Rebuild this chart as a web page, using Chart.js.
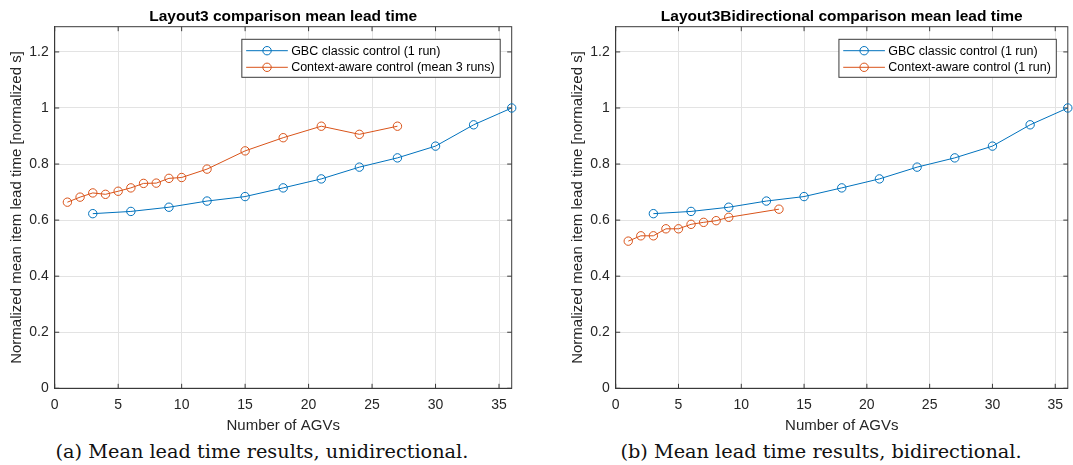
<!DOCTYPE html>
<html>
<head>
<meta charset="utf-8">
<title>Mean lead time comparison</title>
<script src="https://cdn.jsdelivr.net/npm/chart.js@4.4.0/dist/chart.umd.min.js"></script>
<style>
  html, body { margin: 0; padding: 0; background: #fff; }
  body { width: 1073px; height: 465px; position: relative; overflow: hidden; }
  canvas { position: absolute; top: 0; }
  #chart-uni { left: 0; }
  #chart-bi { left: 561px; }
  .caption {
    position: absolute; top: 441px;
    font-family: "DejaVu Serif", serif; font-size: 19.3px; line-height: 22px; color: #111;
    white-space: nowrap; transform: translateX(-50%);
  }
</style>
</head>
<body>
<canvas id="chart-uni" width="536" height="437"></canvas>
<canvas id="chart-bi" width="512" height="437"></canvas>
<div class="caption" style="left:262px">(a) Mean lead time results, unidirectional.</div>
<div class="caption" style="left:821px">(b) Mean lead time results, bidirectional.</div>

<script>
// Number of AGVs and normalized mean item lead time per run
const agvsClassic = [3, 6, 9, 12, 15, 18, 21, 24, 27, 30, 33, 36];
const leadClassic = [0.623, 0.631, 0.646, 0.668, 0.684, 0.715, 0.747, 0.789, 0.822, 0.864, 0.940, 1.000];

const agvsAwareUni = [1, 2, 3, 4, 5, 6, 7, 8, 9, 10, 12, 15, 18, 21, 24, 27];
const leadAwareUni = [0.664, 0.682, 0.697, 0.692, 0.703, 0.715, 0.731, 0.732, 0.749, 0.752, 0.782, 0.847, 0.894, 0.935, 0.906, 0.935];

const agvsAwareBi = [1, 2, 3, 4, 5, 6, 7, 8, 9, 13];
const leadAwareBi = [0.525, 0.544, 0.544, 0.569, 0.569, 0.585, 0.592, 0.598, 0.610, 0.639];

const xTicks = [0, 5, 10, 15, 20, 25, 30, 35];
const xTickLabels = ['0', '5', '10', '15', '20', '25', '30', '35'];
const yTicks = [0, 0.2, 0.4, 0.6, 0.8, 1, 1.2];
const yTickLabels = ['0', '0.2', '0.4', '0.6', '0.8', '1', '1.2'];

const BLUE = '#0072BD';
const ORANGE = '#D95319';
const AXIS = '#3a3a3a';
const GRID = '#e3e3e3';
const TEXT = '#262626';
const FONT = '"Liberation Sans", Arial, sans-serif';

function toPoints(xs, ys) {
    return xs.map((x, i) => ({ x: x, y: ys[i] }));
}

function series(label, xs, ys, color) {
    return {
        label: label,
        data: toPoints(xs, ys),
        showLine: true,
        borderColor: color,
        borderWidth: 1,
        backgroundColor: 'rgba(0,0,0,0)',
        pointBackgroundColor: 'rgba(0,0,0,0)',
        pointBorderColor: color,
        pointBorderWidth: 1,
        pointRadius: 4.2,
        pointHoverRadius: 4.2,
        clip: false,
    };
}

// Bold title centred over the plot area (not over the whole canvas)
function areaTitle(text) {
    return {
        id: 'areaTitle',
        afterDraw(chart) {
            const { ctx, chartArea: a } = chart;
            ctx.save();
            ctx.font = 'bold 15.5px ' + FONT;
            ctx.fillStyle = '#000';
            ctx.textAlign = 'center';
            ctx.textBaseline = 'middle';
            ctx.fillText(text, (a.left + a.right) / 2, 16.5);
            ctx.restore();
        }
    };
}

// Box round the plot area with inward ticks on all four sides
const frameBox = {
    id: 'frameBox',
    beforeDatasetsDraw(chart) {
        const { ctx, chartArea: a, scales: { x, y } } = chart;
        const len = 4.5;
        ctx.save();
        ctx.strokeStyle = AXIS;
        ctx.lineWidth = 1;
        ctx.strokeRect(a.left, a.top, a.right - a.left, a.bottom - a.top);
        ctx.beginPath();
        xTicks.forEach(v => {
            const px = x.getPixelForValue(v);
            ctx.moveTo(px, a.bottom); ctx.lineTo(px, a.bottom - len);
            ctx.moveTo(px, a.top); ctx.lineTo(px, a.top + len);
        });
        yTicks.forEach(v => {
            const py = y.getPixelForValue(v);
            ctx.moveTo(a.left, py); ctx.lineTo(a.left + len, py);
            ctx.moveTo(a.right, py); ctx.lineTo(a.right - len, py);
        });
        ctx.stroke();
        ctx.restore();
    }
};

// Legend box in the upper right corner: line with circle marker, then label
const boxLegend = {
    id: 'boxLegend',
    afterDraw(chart) {
        const { ctx, chartArea: a } = chart;
        const sets = chart.data.datasets;
        ctx.save();
        ctx.font = '12.5px ' + FONT;
        const textW = Math.max(...sets.map(d => ctx.measureText(d.label).width));
        const w = 49.3 + textW + 5.5;
        const h = 38;
        const left = a.right - 11.5 - w;
        const top = a.top + 12.6;
        ctx.fillStyle = '#fff';
        ctx.fillRect(left, top, w, h);
        ctx.strokeStyle = AXIS;
        ctx.lineWidth = 1;
        ctx.strokeRect(left, top, w, h);
        sets.forEach((d, i) => {
            const cy = top + 11.4 + i * 16.6;
            ctx.strokeStyle = d.borderColor;
            ctx.beginPath();
            ctx.moveTo(left + 4.3, cy);
            ctx.lineTo(left + 46, cy);
            ctx.stroke();
            ctx.beginPath();
            ctx.arc(left + 25.2, cy, 4.2, 0, Math.PI * 2);
            ctx.stroke();
            ctx.fillStyle = '#000';
            ctx.textBaseline = 'middle';
            ctx.textAlign = 'left';
            ctx.fillText(d.label, left + 49.3, cy + 0.5);
        });
        ctx.restore();
    }
};

function panelOptions(padRight) {
    return {
        responsive: false,
        animation: false,
        events: [],
        layout: { padding: { left: 0, right: padRight, top: 26.7, bottom: 0 } },
        plugins: {
            legend: { display: false },
            tooltip: { enabled: false },
            title: { display: false }
        },
        scales: {
            x: {
                type: 'linear',
                min: 0,
                max: 36,
                afterBuildTicks: s => { s.ticks = xTicks.map(v => ({ value: v })); },
                afterFit: s => { s.height = 48.7; },
                grid: { color: GRID, drawTicks: false },
                border: { color: AXIS },
                ticks: {
                    padding: 8,
                    color: TEXT,
                    font: { family: FONT, size: 14 },
                    maxRotation: 0,
                    callback: (v, i) => xTickLabels[i]
                },
                title: {
                    display: true,
                    text: 'Number of AGVs',
                    color: TEXT,
                    font: { family: FONT, size: 15 },
                    padding: { top: 0, bottom: 2 }
                }
            },
            y: {
                type: 'linear',
                min: 0,
                max: 1.29,
                afterBuildTicks: s => { s.ticks = yTicks.map(v => ({ value: v })); },
                afterFit: s => { s.width = 54.7; },
                grid: { color: GRID, drawTicks: false },
                border: { color: AXIS },
                ticks: {
                    padding: 6,
                    color: TEXT,
                    font: { family: FONT, size: 14 },
                    callback: (v, i) => yTickLabels[i]
                },
                title: {
                    display: true,
                    text: 'Normalized mean item lead time [normalized s]',
                    color: TEXT,
                    font: { family: FONT, size: 15 },
                    padding: { top: 7.6, bottom: 0 }
                }
            }
        }
    };
}

new Chart(document.getElementById('chart-uni'), {
    type: 'scatter',
    data: {
        datasets: [
            series('GBC classic control (1 run)', agvsClassic, leadClassic, BLUE),
            series('Context-aware control (mean 3 runs)', agvsAwareUni, leadAwareUni, ORANGE)
        ]
    },
    options: panelOptions(24.3),
    plugins: [frameBox, boxLegend, areaTitle('Layout3 comparison mean lead time')]
});

new Chart(document.getElementById('chart-bi'), {
    type: 'scatter',
    data: {
        datasets: [
            series('GBC classic control (1 run)', agvsClassic, leadClassic, BLUE),
            series('Context-aware control (1 run)', agvsAwareBi, leadAwareBi, ORANGE)
        ]
    },
    options: panelOptions(2),
    plugins: [frameBox, boxLegend, areaTitle('Layout3Bidirectional comparison mean lead time')]
});
</script>
</body>
</html>
